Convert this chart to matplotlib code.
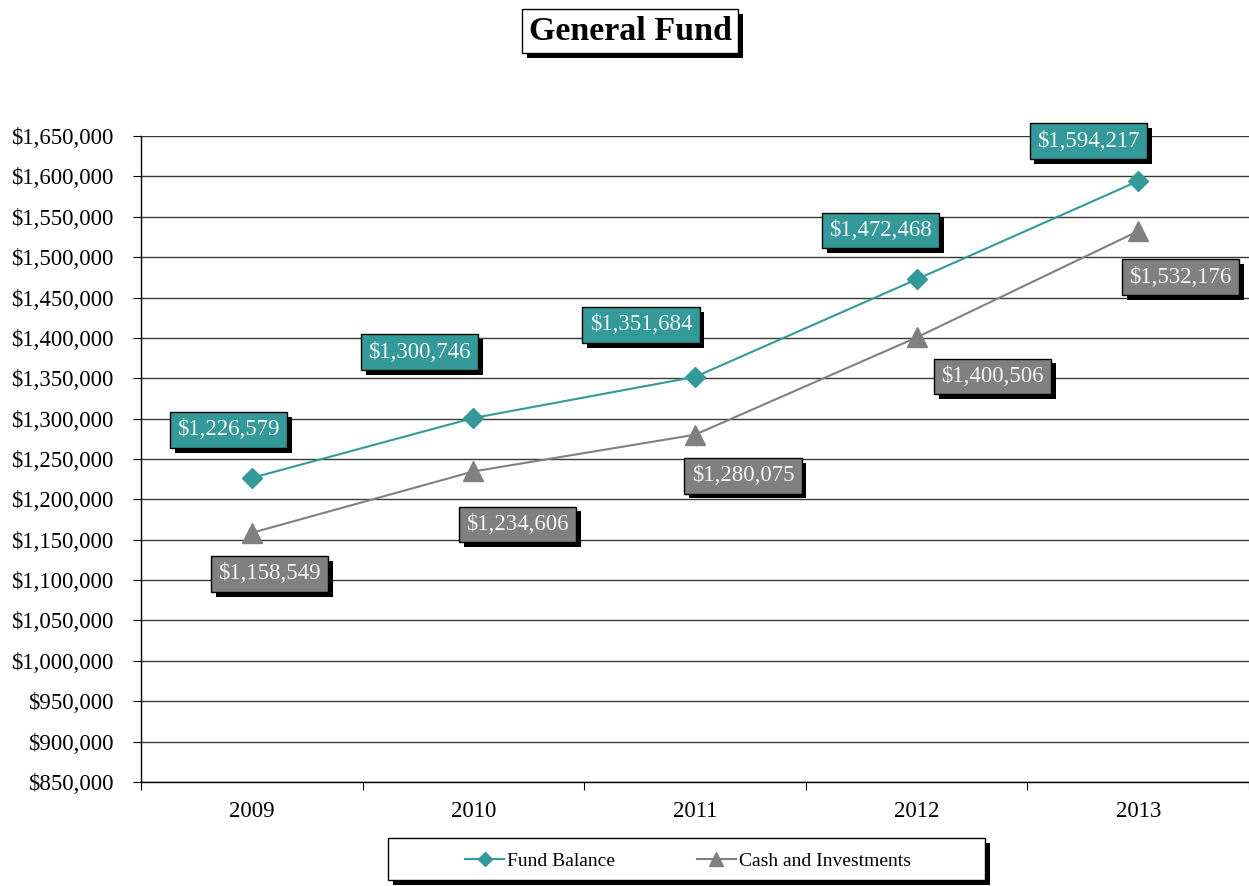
import matplotlib
matplotlib.use("Agg")
import matplotlib.pyplot as plt
import matplotlib.patheffects as pe
from matplotlib.patches import Rectangle
from matplotlib.ticker import FuncFormatter, FixedLocator

years = ["2009", "2010", "2011", "2012", "2013"]
fund_balance = [1226579, 1300746, 1351684, 1472468, 1594217]
cash_investments = [1158549, 1234606, 1280075, 1400506, 1532176]

teal = "#339999"
gray = "#808080"
serif = ["Liberation Serif", "DejaVu Serif"]

# label offsets in pixels from each point (x, y up)
fb_offsets = [(-23, 48), (-54, 66), (-54, 52), (-36, 49), (-50, 40)]
ci_offsets = [(18, -41), (44, -53), (48, -41), (76, -39), (42, -46)]

W, H = 1249, 886
fig = plt.figure(figsize=(W / 100, H / 100), dpi=100)
ax = fig.add_axes([141 / W, (H - 782) / H, (W - 141) / W, (782 - 136) / H])

x = list(range(len(years)))
ax.plot(x, fund_balance, color=teal, lw=1.5, marker="D", ms=10,
        label="Fund Balance", zorder=3)
ax.plot(x, cash_investments, color=gray, lw=1.5, marker="^", ms=14,
        label="Cash and Investments", zorder=3)

ax.set_xlim(-0.5, len(years) - 0.5)
ax.set_ylim(850000, 1650000)
ax.set_yticks(range(850000, 1650001, 50000))
ax.yaxis.set_major_formatter(FuncFormatter(lambda v, p: f"${v:,.0f}"))
ax.grid(axis="y", color="#3a3a3a", lw=1)
ax.set_axisbelow(True)

ax.xaxis.set_major_locator(FixedLocator([i - 0.5 for i in range(len(years) + 1)]))
ax.xaxis.set_major_formatter(FuncFormatter(lambda v, p: ""))
ax.set_xticks(x, labels=years, minor=True)
ax.tick_params(axis="x", which="minor", length=0, pad=14)
ax.tick_params(axis="x", which="major", length=6, direction="out")
ax.tick_params(axis="y", length=6, direction="out", pad=14)
for lab in ax.get_xticklabels(minor=True) + ax.get_yticklabels():
    lab.set_fontfamily(serif)
    lab.set_fontsize(16.5)

for s in ["top", "right"]:
    ax.spines[s].set_visible(False)
ax.spines["left"].set_linewidth(1)
ax.spines["bottom"].set_linewidth(1)

shadow = [pe.withSimplePatchShadow(offset=(3.5, -3.5), shadow_rgbFace="black", alpha=1.0)]


def put_labels(values, offsets, face):
    for i, (v, off) in enumerate(zip(values, offsets)):
        t = ax.annotate(f"${v:,.0f}", xy=(i, v), xytext=off, textcoords="offset pixels",
                        ha="center", va="center", color="#f4f4f4", fontsize=16.5,
                        family=serif, zorder=5,
                        bbox=dict(boxstyle="square,pad=0.32", fc=face, ec="black", lw=1))
        t.get_bbox_patch().set_path_effects(shadow)


put_labels(fund_balance, fb_offsets, teal)
put_labels(cash_investments, ci_offsets, gray)

title = fig.text(630 / W, 1 - 31 / H, "General Fund", ha="center", va="center",
                 fontsize=24.5, weight="bold", family=serif,
                 bbox=dict(boxstyle="square,pad=0.2", fc="white", ec="black", lw=1))
title.get_bbox_patch().set_path_effects(shadow)

# legend frame drawn separately so it can be wide
frame = Rectangle((388 / W, 1 - 880 / H), (985 - 388) / W, 42 / H,
                  transform=fig.transFigure, fc="white", ec="black", lw=1, zorder=1)
frame.set_path_effects(shadow)
fig.patches.append(frame)
leg = fig.legend(loc="center", bbox_to_anchor=(688 / W, 1 - 861 / H),
                 ncol=2, frameon=False,
                 prop={"family": serif, "size": 14}, handlelength=2.0,
                 handletextpad=0.15, columnspacing=4.2, markerscale=0.75)
leg.set_zorder(2)

fig.savefig("out.png", dpi=100)
